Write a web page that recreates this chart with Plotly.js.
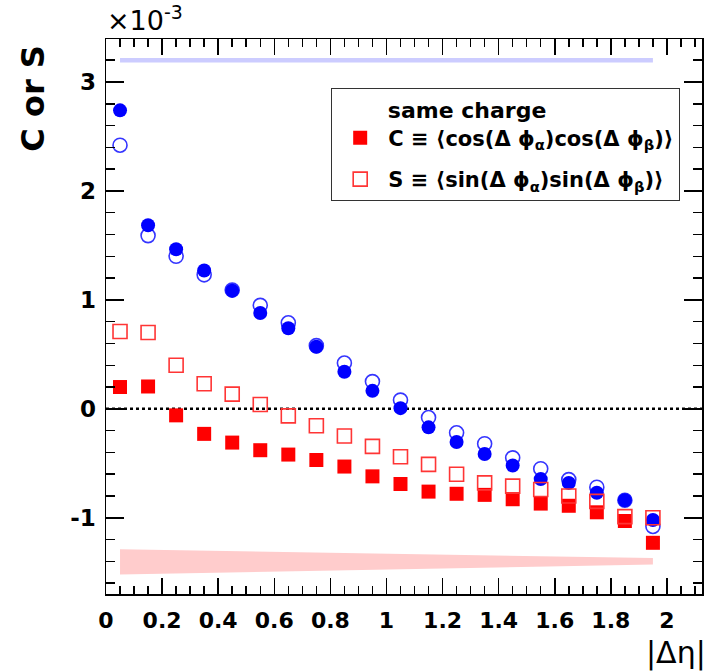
<!DOCTYPE html>
<html>
<head>
<meta charset="utf-8">
<script src="https://cdn.plot.ly/plotly-3.0.1.min.js"></script>
<style>html,body{margin:0;padding:0;background:#fff;}#chart{width:710px;height:671px;}</style>
</head>
<body>
<div id="chart"></div>
<script>
// |Δη| bin centres
const deta = [0.05,0.15,0.25,0.35,0.45,0.55,0.65,0.75,0.85,0.95,1.05,1.15,1.25,1.35,1.45,1.55,1.65,1.75,1.85,1.95];
// values in units of 1e-3
const blueC = [2.74,1.685,1.465,1.27,1.085,0.88,0.74,0.57,0.34,0.165,0.006,-0.17,-0.305,-0.415,-0.52,-0.645,-0.68,-0.77,-0.84,-1.02];
const blueS = [2.42,1.59,1.40,1.23,1.09,0.95,0.79,0.58,0.42,0.25,0.08,-0.08,-0.22,-0.32,-0.45,-0.55,-0.65,-0.72,-0.84,-1.08];
const sameC = [0.20,0.205,-0.06,-0.23,-0.31,-0.38,-0.42,-0.47,-0.53,-0.62,-0.69,-0.76,-0.78,-0.79,-0.83,-0.87,-0.89,-0.95,-1.03,-1.23];
const sameS = [0.71,0.70,0.40,0.23,0.135,0.04,-0.065,-0.155,-0.25,-0.345,-0.44,-0.51,-0.60,-0.68,-0.71,-0.74,-0.80,-0.85,-0.99,-1.00];
// systematic bands
const bandX = [0.05,1.95,1.95,0.05];
const blueBandY = [3.22,3.22,3.18,3.18];
const redBandY = [-1.29,-1.37,-1.43,-1.52];
// axis ticks
const yTickVals = [-1,0,1,2,3];
const yTickText = ['-1','0','1','2','3'];

const F = 'DejaVu Sans, Liberation Sans, Arial, sans-serif';

const traces = [
  {x: bandX, y: blueBandY, type:'scatter', mode:'lines', fill:'toself', fillcolor:'#ccccff', line:{width:0}, showlegend:false, hoverinfo:'skip'},
  {x: bandX, y: redBandY, type:'scatter', mode:'lines', fill:'toself', fillcolor:'#ffcccc', line:{width:0}, showlegend:false, hoverinfo:'skip'},
  {x: deta, y: blueS, type:'scatter', mode:'markers', marker:{symbol:'circle-open', size:14, color:'#3535ff', line:{width:1.6, color:'#3535ff'}}, showlegend:false},
  {x: deta, y: blueC, type:'scatter', mode:'markers', marker:{symbol:'circle', size:14, color:'#0000ff'}, showlegend:false},
  {x: deta, y: sameC, type:'scatter', mode:'markers', name:'C \u2261 \u27E8cos(\u0394 \u03D5<sub>\u03B1</sub>)cos(\u0394 \u03D5<sub>\u03B2</sub>)\u27E9', legendgroup:'a', marker:{symbol:'square', size:14, color:'#ff0000'}},
  {x: deta, y: sameS, type:'scatter', mode:'markers', name:'S \u2261 \u27E8sin(\u0394 \u03D5<sub>\u03B1</sub>)sin(\u0394 \u03D5<sub>\u03B2</sub>)\u27E9', legendgroup:'b', marker:{symbol:'square-open', size:14, color:'#ff3535', line:{width:1.6, color:'#ff3535'}}}
];

const axCommon = {
  showline:true, mirror:'ticks', linecolor:'#000', linewidth:1.5,
  ticks:'inside', tickwidth:1.5, tickcolor:'#000',
  showgrid:false, zeroline:false
};

const layout = {
  width:710, height:671,
  margin:{l:106, r:8, t:39, b:76.5},
  paper_bgcolor:'#fff', plot_bgcolor:'#fff',
  font:{family:F, color:'#000'},
  xaxis: Object.assign({}, axCommon, {
    range:[0, 2.125], dtick:0.2, tick0:0, ticklen:16,
    minor:{dtick:0.05, ticklen:8, ticks:'inside', tickwidth:1.5, tickcolor:'#000', showgrid:false},
    tickfont:{family:F, size:22, weight:'bold', color:'#000'},
    ticklabelstandoff:6
  }),
  yaxis: Object.assign({}, axCommon, {
    range:[-1.70, 3.395], tickmode:'array', tickvals:yTickVals, ticktext:yTickText, ticklen:18,
    minor:{dtick:0.2, tick0:0, ticklen:9, ticks:'inside', tickwidth:1.5, tickcolor:'#000', showgrid:false},
    tickfont:{family:F, size:23, weight:'bold', color:'#000'},
    ticklabelstandoff:4
  }),
  legend:{
    x:0.3775, y:0.912, xanchor:'left', yanchor:'top',
    bgcolor:'#fff', bordercolor:'#333', borderwidth:1.2,
    font:{family:F, size:21, weight:'bold', color:'#000'},
    itemwidth:46, tracegroupgap:11,
    title:{text:'\u00a0\u00a0\u00a0\u00a0\u00a0\u00a0\u00a0same charge', font:{family:F, size:22, weight:'bold'}}
  },
  shapes:[
    {type:'line', xref:'paper', x0:0, x1:1, yref:'y', y0:0, y1:0, layer:'below', line:{color:'#000', width:2.5, dash:'dot'}}
  ],
  annotations:[
    {text:'C or S', textangle:-90, xref:'paper', yref:'paper', x:-0.122, y:0.993, xanchor:'center', yanchor:'top', showarrow:false, font:{family:F, size:32, weight:'bold', color:'#000'}},
    {text:'\u00d710<sup>-3</sup>', xref:'paper', yref:'paper', x:-0.002, y:1.002, xanchor:'left', yanchor:'bottom', showarrow:false, font:{family:F, size:27, color:'#000'}},
    {text:'|\u0394\u03B7|', xref:'paper', yref:'paper', x:1.01, y:-0.07, xanchor:'right', yanchor:'top', showarrow:false, font:{family:F, size:30, color:'#000'}}
  ]
};

Plotly.newPlot('chart', traces, layout, {staticPlot:true, displayModeBar:false});
</script>
</body>
</html>
